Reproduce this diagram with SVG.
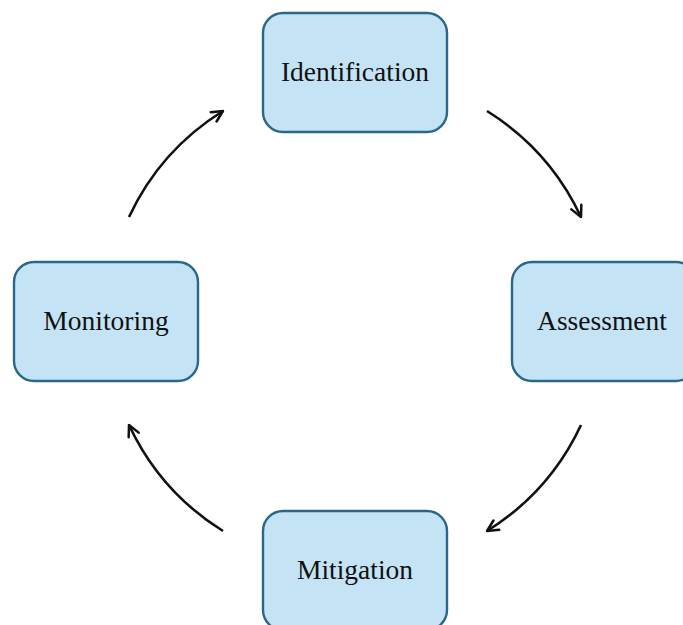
<svg xmlns="http://www.w3.org/2000/svg" width="683" height="625" viewBox="0 0 683 625">
  <style>
    .box { fill: #c4e4f5; stroke: #2b6788; stroke-width: 2.4; }
    .label { font-family: "Liberation Serif", "Times New Roman", serif; font-size: 27.5px; fill: #111; text-anchor: middle; }
    .flow { fill: none; stroke: #111; stroke-width: 2.6; marker-end: url(#head); }
  </style>
  <defs>
    <marker id="head" viewBox="0 0 14 14" refX="12.5" refY="7" markerWidth="14" markerHeight="14" markerUnits="userSpaceOnUse" orient="auto">
      <path d="M1.5,1.5 L12.5,7 L1.5,12.5" fill="none" stroke="#111" stroke-width="2.5" stroke-linecap="round" stroke-linejoin="round"/>
    </marker>
  </defs>
  <rect width="683" height="625" fill="#ffffff"/>

  <!-- cycle arrows: arcs of one circle centred at (355,321), r=249 -->
  <g id="connectors">
    <path class="flow" d="M487,111 A249,249 0 0 1 581,217"/>
    <path class="flow" d="M581,425 A249,249 0 0 1 487,531"/>
    <path class="flow" d="M223,531 A249,249 0 0 1 129,425"/>
    <path class="flow" d="M129,217 A249,249 0 0 1 223,111"/>
  </g>

  <g id="identification">
    <rect class="box" x="263" y="13" width="184" height="119" rx="20" ry="20"/>
    <text class="label" x="355" y="81">Identification</text>
  </g>
  <g id="assessment">
    <rect class="box" x="512" y="262" width="184" height="119" rx="20" ry="20"/>
    <text class="label" x="602" y="330">Assessment</text>
  </g>
  <g id="mitigation">
    <rect class="box" x="263" y="511" width="184" height="119" rx="20" ry="20"/>
    <text class="label" x="355" y="579">Mitigation</text>
  </g>
  <g id="monitoring">
    <rect class="box" x="14" y="262" width="184" height="119" rx="20" ry="20"/>
    <text class="label" x="106" y="330">Monitoring</text>
  </g>
</svg>
